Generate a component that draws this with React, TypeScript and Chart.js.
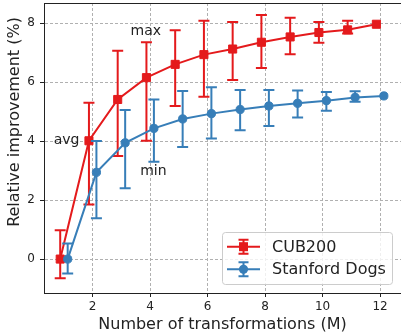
import React, { useEffect, useRef } from "react";
import { Chart, registerables } from "chart.js";

Chart.register(...registerables);

// Number of transformations (M)
const M = [1, 2, 3, 4, 5, 6, 7, 8, 9, 10, 11, 12];

// CUB200: average with min / max range
const cubAvg = [0, 4.01, 5.41, 6.15, 6.6, 6.93, 7.12, 7.35, 7.53, 7.68, 7.77, 7.96];
const cubMax = [0.98, 5.3, 7.06, 7.35, 7.76, 8.08, 8.04, 8.27, 8.18, 8.04, 8.08, 7.96];
const cubMin = [-0.65, 1.85, 3.49, 4.01, 5.19, 5.5, 6.07, 6.48, 6.94, 7.33, 7.65, 7.96];

// Stanford Dogs: average with min / max range
const dogsAvg = [0, 2.94, 3.94, 4.43, 4.75, 4.93, 5.07, 5.19, 5.28, 5.37, 5.48, 5.53];
const dogsMax = [0.53, 4.0, 5.05, 5.41, 5.7, 5.82, 5.73, 5.73, 5.71, 5.66, 5.69, 5.53];
const dogsMin = [-0.49, 1.38, 2.4, 3.3, 3.8, 4.09, 4.37, 4.51, 4.8, 5.03, 5.33, 5.53];

const seriesLabels = ["CUB200", "Stanford Dogs"];

const xTicks = [2, 4, 6, 8, 10, 12];
const yTicks = [0, 2, 4, 6, 8];

// Text annotations (data coordinates)
const annoText = ["max", "avg", "min"];
const annoX = [3.85, 1.09, 4.11];
const annoY = [7.73, 4.02, 2.96];

const xTitle = "Number of transformations (M)";
const yTitle = "Relative improvement (%)";

const RED = "#e41a1c";
const BLUE = "#377eb8";
const TEXT = "#222222";
const FONT = "'DejaVu Sans', sans-serif";
const DODGE = 0.13;

const VIEW_W = 401;
const VIEW_H = 335;
const CANVAS_W = 410; // canvas runs past the right edge; the figure's right spine is cropped off

const errorBarPlugin = {
  id: "errorBars",
  beforeDatasetDraw(chart: any, args: any) {
    const ds: any = chart.data.datasets[args.index];
    if (!ds.errMin) return;
    const { ctx } = chart;
    const xs = chart.scales.x;
    const ys = chart.scales.y;
    const cap = 5.5;
    ctx.save();
    ctx.strokeStyle = ds.borderColor;
    ctx.lineWidth = 2;
    ds.data.forEach((p: any, i: number) => {
      const lo = ds.errMin[i];
      const hi = ds.errMax[i];
      if (hi - lo < 1e-9) return;
      const px = xs.getPixelForValue(p.x);
      const y1 = ys.getPixelForValue(lo);
      const y2 = ys.getPixelForValue(hi);
      ctx.beginPath();
      ctx.moveTo(px, y1);
      ctx.lineTo(px, y2);
      ctx.moveTo(px - cap, y1);
      ctx.lineTo(px + cap, y1);
      ctx.moveTo(px - cap, y2);
      ctx.lineTo(px + cap, y2);
      ctx.stroke();
    });
    ctx.restore();
  },
};

const decorPlugin = {
  id: "decor",
  afterDatasetsDraw(chart: any) {
    const { ctx, chartArea: ca } = chart;
    // top spine
    ctx.save();
    ctx.strokeStyle = TEXT;
    ctx.lineWidth = 1;
    ctx.beginPath();
    ctx.moveTo(ca.left, ca.top + 0.5);
    ctx.lineTo(ca.right, ca.top + 0.5);
    ctx.stroke();
    ctx.restore();
  },
  afterDraw(chart: any) {
    const { ctx, chartArea: ca } = chart;
    const xs = chart.scales.x;
    const ys = chart.scales.y;

    // annotations
    ctx.save();
    ctx.fillStyle = TEXT;
    ctx.font = `14px ${FONT}`;
    ctx.textAlign = "center";
    ctx.textBaseline = "middle";
    annoText.forEach((t, i) => {
      ctx.fillText(t, xs.getPixelForValue(annoX[i]), ys.getPixelForValue(annoY[i]));
    });
    ctx.restore();

    // y title
    ctx.save();
    ctx.fillStyle = TEXT;
    ctx.font = `16px ${FONT}`;
    ctx.textAlign = "center";
    ctx.textBaseline = "middle";
    ctx.translate(15, (ca.top + ca.bottom) / 2 - 26);
    ctx.rotate(-Math.PI / 2);
    ctx.fillText(yTitle, 0, 0);
    ctx.restore();

    // x title, centred on the visible axes span
    ctx.save();
    ctx.fillStyle = TEXT;
    ctx.font = `16px ${FONT}`;
    ctx.textAlign = "center";
    ctx.textBaseline = "middle";
    ctx.fillText(xTitle, (ca.left + VIEW_W) / 2, VIEW_H - 10);
    ctx.restore();

    // legend (lower right, inside the visible area)
    const boxW = 170;
    const boxH = 52;
    const boxR = VIEW_W - 9;
    const boxB = ca.bottom - 9;
    const L = boxR - boxW;
    const T = boxB - boxH;
    ctx.save();
    ctx.beginPath();
    (ctx as any).roundRect(L + 0.5, T + 0.5, boxW, boxH, 3);
    ctx.fillStyle = "rgba(255,255,255,0.8)";
    ctx.fill();
    ctx.strokeStyle = "#cccccc";
    ctx.lineWidth = 1;
    ctx.stroke();
    chart.data.datasets.forEach((ds: any, i: number) => {
      const cy = T + 14.7 + i * 22.6;
      const mx = L + 21.5;
      ctx.strokeStyle = ds.borderColor;
      ctx.fillStyle = ds.borderColor;
      ctx.lineWidth = 2;
      ctx.beginPath();
      ctx.moveTo(L + 5, cy);
      ctx.lineTo(L + 38, cy);
      ctx.moveTo(mx, cy - 7);
      ctx.lineTo(mx, cy + 7);
      ctx.moveTo(mx - 5, cy - 7);
      ctx.lineTo(mx + 5, cy - 7);
      ctx.moveTo(mx - 5, cy + 7);
      ctx.lineTo(mx + 5, cy + 7);
      ctx.stroke();
      if (ds.pointStyle === "rect") {
        ctx.fillRect(mx - 4.5, cy - 4.5, 9, 9);
      } else {
        ctx.beginPath();
        ctx.arc(mx, cy, 4.6, 0, Math.PI * 2);
        ctx.fill();
      }
      ctx.fillStyle = TEXT;
      ctx.font = `16px ${FONT}`;
      ctx.textAlign = "left";
      ctx.textBaseline = "middle";
      ctx.fillText(ds.label, L + 50, cy + 1);
    });
    ctx.restore();
  },
};

export default function App() {
  const ref = useRef<HTMLCanvasElement | null>(null);

  useEffect(() => {
    document.body.style.margin = "0";
    const canvas = ref.current;
    if (!canvas) return;
    const chart = new Chart(canvas, {
      type: "line",
      data: {
        datasets: [
          {
            label: seriesLabels[0],
            data: M.map((m, i) => ({ x: m - DODGE, y: cubAvg[i] })),
            errMin: cubMin,
            errMax: cubMax,
            borderColor: RED,
            backgroundColor: RED,
            pointBackgroundColor: RED,
            pointBorderColor: RED,
            pointStyle: "rect",
            pointRadius: 5.7,
            pointBorderWidth: 1,
            borderWidth: 2,
            order: 1,
          } as any,
          {
            label: seriesLabels[1],
            data: M.map((m, i) => ({ x: m + DODGE, y: dogsAvg[i] })),
            errMin: dogsMin,
            errMax: dogsMax,
            borderColor: BLUE,
            backgroundColor: BLUE,
            pointBackgroundColor: BLUE,
            pointBorderColor: BLUE,
            pointStyle: "circle",
            pointRadius: 4.1,
            pointBorderWidth: 1,
            borderWidth: 2,
            order: 0,
          } as any,
        ],
      },
      options: {
        responsive: false,
        animation: false,
        devicePixelRatio: 1,
        layout: { autoPadding: false, padding: { top: 3, right: 0, left: 0, bottom: 0 } },
        plugins: {
          legend: { display: false },
          tooltip: { enabled: false },
        },
        scales: {
          x: {
            type: "linear",
            min: 0.306,
            max: 13.04,
            afterFit: (s: any) => {
              s.height = 42;
              s.paddingLeft = 0;
              s.paddingRight = 0;
            },
            afterBuildTicks: (s: any) => {
              s.ticks = xTicks.map((v) => ({ value: v }));
            },
            ticks: {
              font: { family: FONT, size: 12 },
              color: TEXT,
              padding: 3,
              maxRotation: 0,
              callback: (v: any) => String(v),
            },
            grid: {
              color: "#b0b0b0",
              lineWidth: 1,
              tickLength: 4,
              tickColor: TEXT,
              tickWidth: 1,
              tickBorderDash: [],
            },
            border: { color: TEXT, width: 1, dash: [3, 2] },
            title: { display: false },
          },
          y: {
            type: "linear",
            min: -1.15,
            max: 8.68,
            afterFit: (s: any) => {
              s.width = 44;
              s.paddingTop = 0;
              s.paddingBottom = 0;
            },
            afterBuildTicks: (s: any) => {
              s.ticks = yTicks.map((v) => ({ value: v }));
            },
            ticks: {
              font: { family: FONT, size: 12 },
              color: TEXT,
              padding: 5,
              callback: (v: any) => String(v),
            },
            grid: {
              color: "#b0b0b0",
              lineWidth: 1,
              tickLength: 4,
              tickColor: TEXT,
              tickWidth: 1,
              tickBorderDash: [],
            },
            border: { color: TEXT, width: 1, dash: [3, 2] },
          },
        },
      } as any,
      plugins: [errorBarPlugin, decorPlugin],
    });
    return () => chart.destroy();
  }, []);

  return (
    <div
      style={{
        position: "absolute",
        left: 0,
        top: 0,
        width: VIEW_W,
        height: VIEW_H,
        overflow: "hidden",
      }}
    >
      <canvas ref={ref} width={CANVAS_W} height={VIEW_H} style={{ display: "block" }} />
    </div>
  );
}
